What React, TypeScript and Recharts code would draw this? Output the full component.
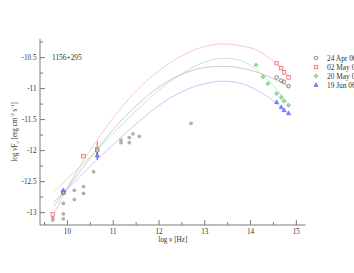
import { ComposedChart, XAxis, YAxis, Line, Scatter, ErrorBar } from 'recharts'

// log nu [Hz] / log nuFnu tick positions
const xTicks = [9.5, 10, 10.5, 11, 11.5, 12, 12.5, 13, 13.5, 14, 14.5, 15]
const yTicks = [-13, -12.75, -12.5, -12.25, -12, -11.75, -11.5, -11.25, -11, -10.75, -10.5, -10.25]

// archival (grey) points
const archX = [9.68, 9.68, 9.91, 9.91, 9.91, 10.15, 10.15, 10.35, 10.35, 10.57, 11.17, 11.17, 11.35, 11.35, 11.43, 11.57, 12.7]
const archY = [-13.09, -13.12, -12.85, -13.02, -13.1, -12.64, -12.79, -12.58, -12.69, -12.34, -11.83, -11.87, -11.79, -11.87, -11.73, -11.77, -11.56]

// 24 Apr 06
const aprX = [9.91, 10.65, 14.57, 14.67, 14.73, 14.83]
const aprY = [-12.68, -12.0, -10.82, -10.87, -10.89, -10.96]
// 02 May 06
const mayX = [9.68, 9.91, 10.35, 10.65, 14.57, 14.67, 14.73, 14.83]
const mayY = [-13.03, -12.67, -12.09, -11.98, -10.59, -10.67, -10.74, -10.82]
const mayErr = [0, 0, 0, 0.13, 0, 0, 0, 0]
// 20 May 06
const may20X = [9.91, 10.65, 14.12, 14.27, 14.38, 14.57, 14.67, 14.73, 14.83]
const may20Y = [-12.66, -12.0, -10.62, -10.81, -10.92, -11.08, -11.14, -11.2, -11.27]
// 19 Jun 06
const junX = [9.91, 10.65, 14.57, 14.67, 14.73, 14.83]
const junY = [-12.64, -12.08, -11.22, -11.3, -11.35, -11.4]
const junErr = [0, 0.07, 0, 0, 0, 0]

// model curves
const curveX = [9.7, 10, 10.5, 11, 11.5, 12, 12.5, 13, 13.4, 13.8, 14.2, 14.5, 14.85]
const redCurve = [-13.03, -12.6, -11.99, -11.47, -11.04, -10.71, -10.47, -10.32, -10.28, -10.31, -10.4, -10.56, -10.8]
const greenCurve = [-12.66, -12.45, -12.1, -11.72, -11.36, -11.02, -10.76, -10.57, -10.51, -10.55, -10.74, -10.95, -11.28]
const blackCurve = [-12.9, -12.6, -12.12, -11.66, -11.28, -10.97, -10.77, -10.66, -10.64, -10.67, -10.75, -10.84, -10.97]
const blueCurve = [-12.83, -12.62, -12.25, -11.9, -11.57, -11.27, -11.05, -10.92, -10.88, -10.92, -11.05, -11.2, -11.42]

const legendLabels = ['24 Apr 06', '02 May 06', '20 May 06', '19 Jun 06']

const pts = (xs: number[], ys: number[], errs?: number[]) =>
  xs.map((x, i) => ({ x, y: ys[i], err: errs ? errs[i] : 0 }))

const AXIS = '#7a7a7a'
const TEXT = '#333'
const FONT = '"Liberation Serif", "DejaVu Serif", serif'

const Circle = (p: any) => <circle cx={p.cx} cy={p.cy} r={1.8} fill="none" stroke="#444" strokeWidth={0.6} />
const Square = (p: any) => (
  <rect x={p.cx - 1.8} y={p.cy - 1.8} width={3.6} height={3.6} fill="#fde0e0" stroke="#e55" strokeWidth={0.6} />
)
const Diamond = (p: any) => (
  <polygon
    points={`${p.cx},${p.cy - 2.1} ${p.cx + 2.1},${p.cy} ${p.cx},${p.cy + 2.1} ${p.cx - 2.1},${p.cy}`}
    fill="#9d9"
    stroke="#5b5"
    strokeWidth={0.5}
  />
)
const Triangle = (p: any) => (
  <polygon
    points={`${p.cx},${p.cy - 2.3} ${p.cx + 2},${p.cy + 1.4} ${p.cx - 2},${p.cy + 1.4}`}
    fill="#88f"
    stroke="#44e"
    strokeWidth={0.5}
  />
)
const Grey = (p: any) => <circle cx={p.cx} cy={p.cy} r={1.9} fill="#b0b0b0" />

const isMajorX = (v: number) => Number.isInteger(v)
const isMajorY = (v: number) => Number.isInteger(v * 2)

const BottomTick = ({ x, y, payload }: any) => {
  const major = isMajorX(payload.value)
  return (
    <g>
      <line x1={x} x2={x} y1={y} y2={y - (major ? 5 : 3)} stroke={AXIS} />
      {major && (
        <text x={x} y={y + 9} textAnchor="middle" fontSize={7.2} fill={TEXT}>
          {payload.value}
        </text>
      )}
    </g>
  )
}
const TopTick = ({ x, y, payload }: any) => (
  <line x1={x} x2={x} y1={y} y2={y + (isMajorX(payload.value) ? 5 : 3)} stroke={AXIS} />
)
const LeftTick = ({ x, y, payload }: any) => {
  const major = isMajorY(payload.value)
  return (
    <g>
      <line x1={x} x2={x + (major ? 5 : 3)} y1={y} y2={y} stroke={AXIS} />
      {major && (
        <text x={x - 3.5} y={y + 2.5} textAnchor="end" fontSize={7.2} fill={TEXT}>
          {payload.value}
        </text>
      )}
    </g>
  )
}
const RightTick = ({ x, y, payload }: any) => (
  <line x1={x} x2={x - (isMajorY(payload.value) ? 5 : 3)} y1={y} y2={y} stroke={AXIS} />
)

const YLabel = ({ viewBox }: any) => {
  const cx = viewBox.x + 4
  const cy = viewBox.y + viewBox.height / 2
  return (
    <text transform={`translate(${cx},${cy}) rotate(-90)`} textAnchor="middle" dy="0.35em" fontSize={7.2} fill={TEXT}>
      log νF
      <tspan fontSize={5} dy={2}>ν</tspan>
      <tspan dy={-2}> [erg cm</tspan>
      <tspan fontSize={5} dy={-3}>-2</tspan>
      <tspan dy={3}> s</tspan>
      <tspan fontSize={5} dy={-3}>-1</tspan>
      <tspan dy={3}>]</tspan>
    </text>
  )
}
const XLabel = ({ viewBox }: any) => (
  <text x={viewBox.x + viewBox.width / 2} y={viewBox.y + 17} textAnchor="middle" fontSize={7.2} fill={TEXT}>
    log ν [Hz]
  </text>
)

const legendShapes = [Circle, Square, Diamond, Triangle]

export default function App() {
  return (
    <div style={{ position: 'absolute', left: 0, top: 0, width: 354, height: 273, background: '#fff', fontFamily: FONT }}>
      <ComposedChart width={354} height={273} margin={{ top: 39, right: 48.5, bottom: 18, left: 10 }}>
        <XAxis
          dataKey="x"
          type="number"
          domain={[9.4, 15.2]}
          ticks={xTicks}
          allowDataOverflow
          interval={0}
          height={30}
          tickSize={0}
          tickMargin={0}
          tickLine={false}
          axisLine={{ stroke: AXIS }}
          tick={<BottomTick />}
          label={{ content: <XLabel /> }}
        />
        <XAxis
          xAxisId="top"
          orientation="top"
          dataKey="x"
          type="number"
          domain={[9.4, 15.2]}
          ticks={xTicks}
          allowDataOverflow
          interval={0}
          height={0}
          tickSize={0}
          tickMargin={0}
          tickLine={false}
          axisLine={{ stroke: AXIS }}
          tick={<TopTick />}
        />
        <YAxis
          dataKey="y"
          type="number"
          domain={[-13.2, -10.2]}
          ticks={yTicks}
          allowDataOverflow
          interval={0}
          width={30}
          tickSize={0}
          tickMargin={0}
          tickLine={false}
          axisLine={{ stroke: AXIS }}
          tick={<LeftTick />}
          label={{ content: <YLabel /> }}
        />
        <YAxis
          yAxisId="right"
          orientation="right"
          dataKey="y"
          type="number"
          domain={[-13.2, -10.2]}
          ticks={yTicks}
          allowDataOverflow
          interval={0}
          width={0}
          tickSize={0}
          tickMargin={0}
          tickLine={false}
          axisLine={{ stroke: AXIS }}
          tick={<RightTick />}
        />
        <Line data={pts(curveX, redCurve)} dataKey="y" type="monotone" stroke="#f7b0b0" strokeWidth={0.7} dot={false} isAnimationActive={false} />
        <Line data={pts(curveX, greenCurve)} dataKey="y" type="monotone" stroke="#b0dcb0" strokeWidth={0.7} dot={false} isAnimationActive={false} />
        <Line data={pts(curveX, blackCurve)} dataKey="y" type="monotone" stroke="#b4b4b4" strokeWidth={0.7} dot={false} isAnimationActive={false} />
        <Line data={pts(curveX, blueCurve)} dataKey="y" type="monotone" stroke="#b0b0f4" strokeWidth={0.7} dot={false} isAnimationActive={false} />
        <Scatter data={pts(archX, archY)} shape={<Grey />} isAnimationActive={false} />
        <Scatter data={pts(mayX, mayY, mayErr)} shape={<Square />} isAnimationActive={false}>
          <ErrorBar dataKey="err" direction="y" width={0} stroke="#e55" strokeWidth={1} />
        </Scatter>
        <Scatter data={pts(aprX, aprY)} shape={<Circle />} isAnimationActive={false} />
        <Scatter data={pts(may20X, may20Y)} shape={<Diamond />} isAnimationActive={false} />
        <Scatter data={pts(junX, junY, junErr)} shape={<Triangle />} isAnimationActive={false}>
          <ErrorBar dataKey="err" direction="y" width={0} stroke="#44e" strokeWidth={1} />
        </Scatter>
      </ComposedChart>
      <svg width={354} height={273} style={{ position: 'absolute', left: 0, top: 0, pointerEvents: 'none' }}>
        <text x={52} y={59.5} fontSize={7.4} fill={TEXT}>1156+295</text>
        {legendLabels.map((label, i) => {
          const S = legendShapes[i]
          const cy = 58 + i * 9
          return (
            <g key={label}>
              <S cx={316} cy={cy} />
              <text x={327} y={cy + 2.5} fontSize={7.4} fill={TEXT}>{label}</text>
            </g>
          )
        })}
      </svg>
    </div>
  )
}
